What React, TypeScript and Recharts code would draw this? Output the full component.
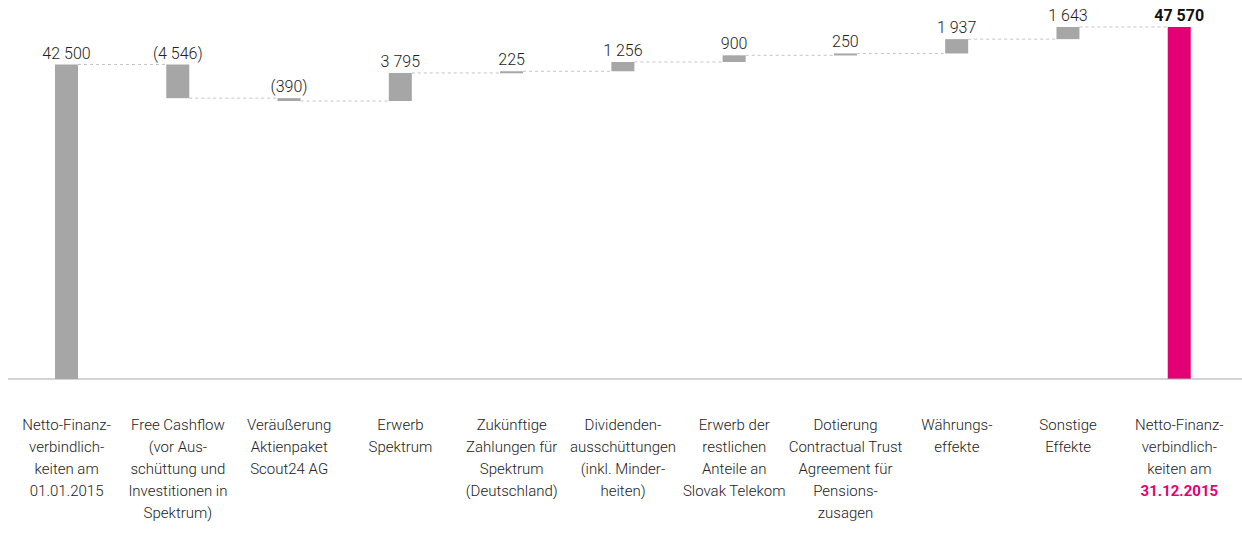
import { Bar, ComposedChart, XAxis, YAxis } from "recharts";

const categories = [
  "Netto-Finanz-\nverbindlich-\nkeiten am\n01.01.2015",
  "Free Cashflow\n(vor Aus-\nschüttung und\nInvestitionen in\nSpektrum)",
  "Veräußerung\nAktienpaket\nScout24 AG",
  "Erwerb\nSpektrum",
  "Zukünftige\nZahlungen für\nSpektrum\n(Deutschland)",
  "Dividenden-\nausschüttungen\n(inkl. Minder-\nheiten)",
  "Erwerb der\nrestlichen\nAnteile an\nSlovak Telekom",
  "Dotierung\nContractual Trust\nAgreement für\nPensions-\nzusagen",
  "Währungs-\neffekte",
  "Sonstige\nEffekte",
  "Netto-Finanz-\nverbindlich-\nkeiten am\n31.12.2015",
];

const changes = [42500, -4546, -390, 3795, 225, 1256, 900, 250, 1937, 1643, 47570];
const valueLabels = ["42 500", "(4 546)", "(390)", "3 795", "225", "1 256", "900", "250", "1 937", "1 643", "47 570"];
const totals = [true, false, false, false, false, false, false, false, false, false, true];

const W = 1242;
const H = 551;
const margin = { top: 9, right: 0, left: 8, bottom: 12 };
const pad = { left: 3, right: 7 };
const band = (W - margin.left - margin.right - pad.left - pad.right) / categories.length;

const GREY = "#a6a6a6";
const PINK = "#e20074";
const FONT = "Roboto, 'Liberation Sans', sans-serif";

let running = 0;
const data = categories.map((name, i) => {
  let base: number;
  let end: number;
  if (totals[i]) {
    base = 0;
    end = changes[i];
  } else {
    const start = running;
    end = start + changes[i];
    base = Math.min(start, end);
  }
  running = end;
  return {
    name,
    base,
    delta: Math.abs(changes[i]),
    down: changes[i] < 0,
    label: valueLabels[i],
    last: i === categories.length - 1,
  };
});

function StepBar(props: any) {
  const { x, y, width, height, payload } = props;
  const color = payload.last ? PINK : GREY;
  const endY = payload.down ? y + height : y;
  return (
    <g>
      {!payload.last && (
        <line
          x1={x + width}
          x2={x + band}
          y1={endY}
          y2={endY}
          stroke="#c4c4c4"
          strokeWidth={1}
          strokeDasharray="3 3"
        />
      )}
      <rect x={x} y={y} width={width} height={Math.max(height, 2)} fill={color} />
      <text
        x={x + width / 2}
        y={y - 6}
        textAnchor="middle"
        fontFamily={FONT}
        fontSize={16}
        fontWeight={payload.last ? 700 : 300}
        fill={payload.last ? "#111" : "#222"}
      >
        {payload.label}
      </text>
    </g>
  );
}

function CategoryTick(props: any) {
  const { x, y, payload, index } = props;
  const lines = String(payload.value).split("\n");
  const isLast = index === categories.length - 1;
  return (
    <text x={x} y={y} textAnchor="middle" fontFamily={FONT} fontSize={15} fill="#222">
      {lines.map((line, i) => {
        const highlight = isLast && i === lines.length - 1;
        return (
          <tspan
            key={i}
            x={x}
            dy={i === 0 ? 45 : 22}
            fill={highlight ? PINK : "#222"}
            fontWeight={highlight ? 700 : 300}
          >
            {line}
          </tspan>
        );
      })}
    </text>
  );
}

export default function App() {
  return (
    <div style={{ width: W, height: H, background: "#fff" }}>
      <style>{`body{margin:0}`}</style>
      <ComposedChart width={W} height={H} data={data} margin={margin} barCategoryGap={0}>
        <XAxis
          dataKey="name"
          interval={0}
          tickLine={false}
          axisLine={{ stroke: "#a8a8a8", strokeWidth: 1 }}
          tick={<CategoryTick />}
          tickMargin={0}
          padding={pad}
          height={160}
        />
        <YAxis hide domain={[0, 50000]} />
        <Bar dataKey="base" stackId="w" fill="transparent" barSize={23} isAnimationActive={false} />
        <Bar dataKey="delta" stackId="w" barSize={23} shape={<StepBar />} isAnimationActive={false} />
      </ComposedChart>
    </div>
  );
}
